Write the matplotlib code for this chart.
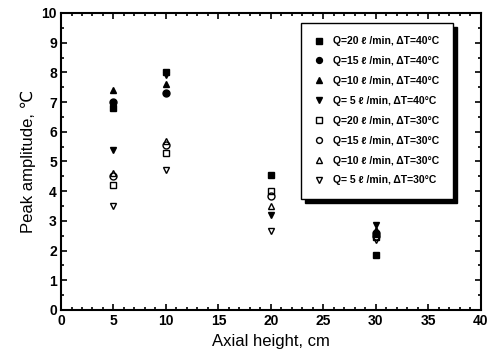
import matplotlib.pyplot as plt
from matplotlib.ticker import MultipleLocator

plt.rcParams['font.family'] = ['Liberation Sans', 'DejaVu Sans']

# axial heights for each series (cm) and peak amplitudes (degC)
labels = ["Q=20 \u2113 /min, \u0394T=40\u00b0C",
          "Q=15 \u2113 /min, \u0394T=40\u00b0C",
          "Q=10 \u2113 /min, \u0394T=40\u00b0C",
          "Q= 5 \u2113 /min, \u0394T=40\u00b0C",
          "Q=20 \u2113 /min, \u0394T=30\u00b0C",
          "Q=15 \u2113 /min, \u0394T=30\u00b0C",
          "Q=10 \u2113 /min, \u0394T=30\u00b0C",
          "Q= 5 \u2113 /min, \u0394T=30\u00b0C"]

h_q20_40 = [5, 10, 20, 30]
a_q20_40 = [6.8, 8.0, 4.55, 1.85]
h_q15_40 = [5, 10, 30]
a_q15_40 = [7.0, 7.3, 2.6]
h_q10_40 = [5, 10, 30]
a_q10_40 = [7.4, 7.6, 2.7]
h_q5_40 = [5, 10, 20, 30]
a_q5_40 = [5.4, 7.9, 3.2, 2.85]
h_q20_30 = [5, 10, 20, 30]
a_q20_30 = [4.2, 5.3, 4.0, 2.45]
h_q15_30 = [5, 10, 20, 30]
a_q15_30 = [4.5, 5.55, 3.85, 2.5]
h_q10_30 = [5, 10, 20, 30]
a_q10_30 = [4.6, 5.7, 3.5, 2.65]
h_q5_30 = [5, 10, 20, 30]
a_q5_30 = [3.5, 4.7, 2.65, 2.35]

series = [(h_q20_40, a_q20_40, 's', 'k'),
          (h_q15_40, a_q15_40, 'o', 'k'),
          (h_q10_40, a_q10_40, '^', 'k'),
          (h_q5_40, a_q5_40, 'v', 'k'),
          (h_q20_30, a_q20_30, 's', 'none'),
          (h_q15_30, a_q15_30, 'o', 'none'),
          (h_q10_30, a_q10_30, '^', 'none'),
          (h_q5_30, a_q5_30, 'v', 'none')]

fig = plt.figure(figsize=(4.9, 3.6), dpi=100)
ax = fig.add_axes([0.1245, 0.139, 0.857, 0.825])

for (h, a, m, fc), lab in zip(series, labels):
    ax.plot(h, a, linestyle='none', marker=m, markersize=5,
            markerfacecolor=fc, markeredgecolor='k', markeredgewidth=1.0,
            label=lab)

ax.set_xlim(0, 40)
ax.set_ylim(0, 10)
ax.xaxis.set_major_locator(MultipleLocator(5))
ax.xaxis.set_minor_locator(MultipleLocator(1))
ax.yaxis.set_major_locator(MultipleLocator(1))
ax.yaxis.set_minor_locator(MultipleLocator(0.5))
ax.tick_params(which='both', direction='in', top=True, right=True, width=1.2)
ax.tick_params(which='major', length=4, labelsize=10, pad=3)
ax.tick_params(which='minor', length=2)
for t in ax.get_xticklabels() + ax.get_yticklabels():
    t.set_fontweight('bold')
for s in ax.spines.values():
    s.set_linewidth(1.5)

ax.set_xlabel("Axial height, cm", fontsize=12, labelpad=4)
ax.set_ylabel("Peak amplitude, \u2103", fontsize=12, labelpad=4)

leg = ax.legend(loc='upper right', bbox_to_anchor=(0.945, 0.985),
                fontsize=7.5, labelspacing=0.95, handlelength=1.0,
                handletextpad=0.8, borderpad=1.3, fancybox=False,
                edgecolor='k', framealpha=1, markerscale=0.85,
                shadow={'ox': 3, 'oy': -3, 'color': 'black', 'alpha': 1})
leg.get_frame().set_linewidth(1.0)
for t in leg.get_texts():
    t.set_fontweight('bold')

fig.savefig("out.png", dpi=100)
